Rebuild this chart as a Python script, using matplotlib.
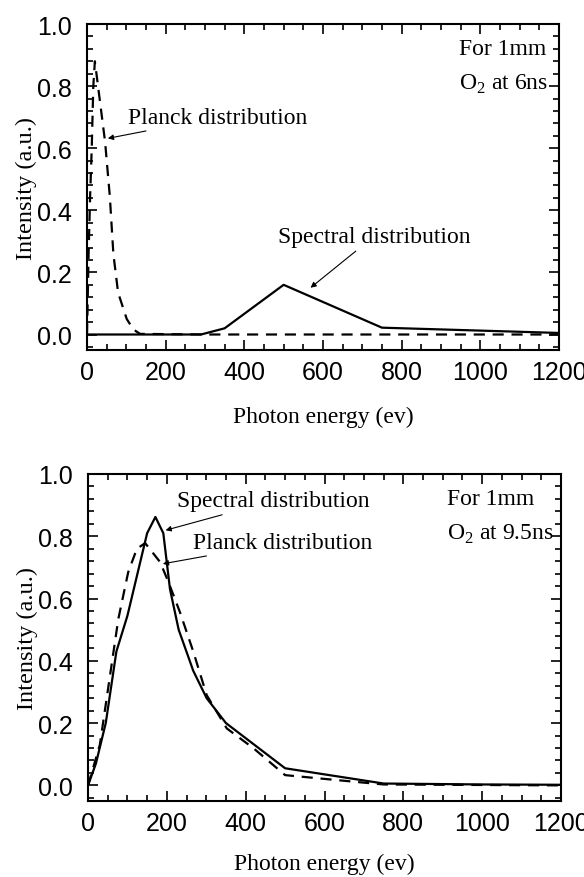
import matplotlib
matplotlib.use('Agg')
import matplotlib.pyplot as plt
from matplotlib.ticker import MultipleLocator

plt.rcParams['mathtext.fontset'] = 'custom'
plt.rcParams['mathtext.rm'] = 'Liberation Serif'

# top panel: O2 at 6ns
e_spec_6 = [0, 290, 350, 500, 750, 1200]
i_spec_6 = [0.0, 0.0, 0.02, 0.16, 0.022, 0.005]
e_planck_6 = [0, 4, 8, 12, 16, 20, 29, 46, 58, 67, 79, 101, 118, 135, 300, 600, 900, 1200]
i_planck_6 = [0.0, 0.26, 0.45, 0.6, 0.8, 0.88, 0.79, 0.62, 0.445, 0.26, 0.135, 0.05, 0.016, 0.002, 0.0, 0.0, 0.0, 0.0]

# bottom panel: O2 at 9.5ns
e_spec_95 = [0, 20, 45, 72, 100, 150, 171, 191, 208, 230, 267, 301, 350, 500, 750, 1000, 1200]
i_spec_95 = [0.0, 0.07, 0.2, 0.43, 0.545, 0.81, 0.862, 0.81, 0.63, 0.5, 0.368, 0.28, 0.2, 0.055, 0.006, 0.003, 0.002]
e_planck_95 = [0, 30, 52, 77, 102, 124, 145, 183, 204, 233, 267, 301, 352, 420, 500, 673, 750, 1200]
i_planck_95 = [0.0, 0.13, 0.32, 0.535, 0.685, 0.76, 0.778, 0.717, 0.653, 0.557, 0.43, 0.29, 0.183, 0.119, 0.033, 0.012, 0.003, 0.0]

serif = 'Liberation Serif'
sans = 'Liberation Sans'
fs_txt = 17

fig = plt.figure(figsize=(5.84, 8.78), dpi=100)
ax1 = fig.add_axes([0.149, 0.6002, 0.808, 0.3713])
ax2 = fig.add_axes([0.1507, 0.0866, 0.81, 0.3724])


def style(ax, xlpad):
    ax.set_xlim(0, 1200)
    ax.set_ylim(-0.05, 1.0)
    ax.xaxis.set_major_locator(MultipleLocator(200))
    ax.xaxis.set_minor_locator(MultipleLocator(50))
    ax.yaxis.set_major_locator(MultipleLocator(0.2))
    ax.yaxis.set_minor_locator(MultipleLocator(0.04))
    ax.tick_params(which='both', direction='in', top=True, right=True, width=1.2)
    ax.tick_params(which='major', length=7, labelsize=18)
    ax.tick_params(axis='x', which='major', pad=7)
    ax.tick_params(axis='y', which='major', pad=11)
    ax.tick_params(which='minor', length=4)
    for lab in ax.get_xticklabels():
        lab.set_fontfamily(sans)
    ax.set_yticks([0, 0.2, 0.4, 0.6, 0.8, 1.0])
    ax.set_yticklabels(['0.0', '0.2', '0.4', '0.6', '0.8', '1.0'], fontfamily=sans)
    for s in ax.spines.values():
        s.set_linewidth(1.5)
    ax.set_xlabel('Photon energy (ev)', fontfamily=serif, fontsize=17, labelpad=xlpad)
    ax.set_ylabel('Intensity (a.u.)', fontfamily=serif, fontsize=17.5, labelpad=0)


arrow = dict(arrowstyle='-|>', color='black', lw=0.8, mutation_scale=8)

ax1.plot(e_spec_6, i_spec_6, color='black', lw=1.6)
ax1.plot(e_planck_6, i_planck_6, color='black', lw=1.6, dashes=(5, 3.5))
style(ax1, 16)
ax1.annotate('Planck distribution', xy=(46, 0.63), xytext=(103, 0.70),
             fontfamily=serif, fontsize=fs_txt, va='center', arrowprops=arrow)
ax1.annotate('Spectral distribution', xy=(563, 0.145), xytext=(486, 0.317),
             fontfamily=serif, fontsize=fs_txt, va='center', arrowprops=arrow)
ax1.text(947, 0.92, 'For 1mm', fontfamily=serif, fontsize=fs_txt, va='center')
ax1.text(947, 0.81, r'O$_\mathrm{2}$ at 6ns', fontfamily=serif, fontsize=fs_txt, va='center')

ax2.plot(e_spec_95, i_spec_95, color='black', lw=1.6)
ax2.plot(e_planck_95, i_planck_95, color='black', lw=1.6, dashes=(5, 3.5))
style(ax2, 13)
ax2.annotate('Spectral distribution', xy=(190, 0.817), xytext=(226, 0.914),
             fontfamily=serif, fontsize=fs_txt, va='center', arrowprops=arrow)
ax2.annotate('Planck distribution', xy=(183, 0.71), xytext=(267, 0.781),
             fontfamily=serif, fontsize=fs_txt, va='center', arrowprops=arrow)
ax2.text(910, 0.922, 'For 1mm', fontfamily=serif, fontsize=fs_txt, va='center')
ax2.text(910, 0.808, r'O$_\mathrm{2}$ at 9.5ns', fontfamily=serif, fontsize=fs_txt, va='center')

fig.savefig('out.png', dpi=100)
